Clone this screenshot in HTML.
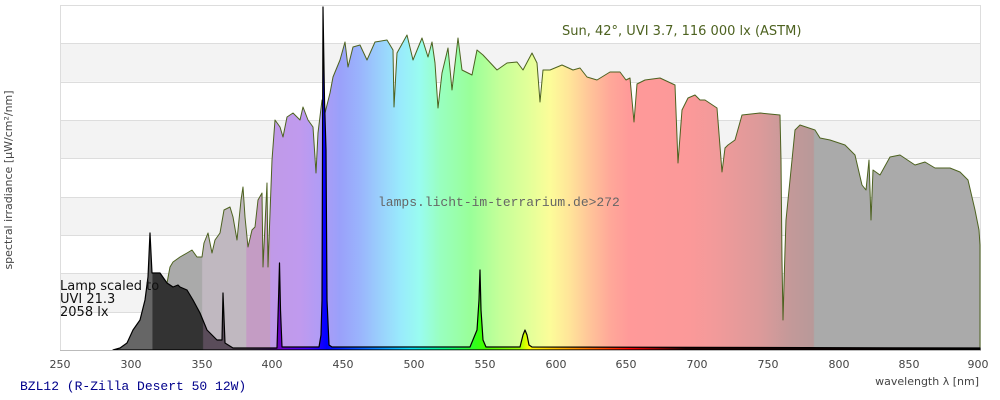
<!DOCTYPE html>
<html><head><meta charset="utf-8"><style>
html,body{margin:0;padding:0;background:#fff;width:1000px;height:400px;overflow:hidden}
svg{display:block;font-family:"DejaVu Sans","Liberation Sans",sans-serif}
</style></head><body>
<svg width="1000" height="400" viewBox="0 0 1000 400" xmlns="http://www.w3.org/2000/svg">
<defs>
<linearGradient id="sun" gradientUnits="userSpaceOnUse" x1="60" y1="0" x2="980" y2="0">
<stop offset="0" stop-color="#aaaaaa"/><stop offset=".154" stop-color="#aaaaaa"/>
<stop offset=".155" stop-color="#c0b8c0"/><stop offset=".202" stop-color="#c0b8c0"/>
<stop offset=".203" stop-color="#c49cc4"/><stop offset=".228" stop-color="#c49cc4"/>
<stop offset=".229" stop-color="#c09ae8"/><stop offset=".261" stop-color="#c09aee"/>
<stop offset=".283" stop-color="#b09cf6"/><stop offset=".304" stop-color="#9aa0fa"/>
<stop offset=".326" stop-color="#9ab4fc"/><stop offset=".348" stop-color="#9ad0fc"/>
<stop offset=".370" stop-color="#99eafc"/><stop offset=".391" stop-color="#99fcf0"/>
<stop offset=".413" stop-color="#99ffc0"/><stop offset=".446" stop-color="#99ff99"/>
<stop offset=".478" stop-color="#c4ff99"/><stop offset=".511" stop-color="#e4ff99"/>
<stop offset=".533" stop-color="#fcfc99"/><stop offset=".554" stop-color="#ffe499"/>
<stop offset=".576" stop-color="#ffc499"/><stop offset=".598" stop-color="#ffa899"/>
<stop offset=".620" stop-color="#ff9999"/><stop offset=".685" stop-color="#fb9999"/>
<stop offset=".717" stop-color="#f09a9a"/><stop offset=".761" stop-color="#dc9a9a"/>
<stop offset=".793" stop-color="#c49999"/><stop offset=".819" stop-color="#b89999"/>
<stop offset=".820" stop-color="#aaaaaa"/><stop offset="1" stop-color="#aaaaaa"/>
</linearGradient>
<linearGradient id="lamp" gradientUnits="userSpaceOnUse" x1="60" y1="0" x2="980" y2="0">
<stop offset="0" stop-color="#666"/><stop offset=".10" stop-color="#666"/>
<stop offset=".101" stop-color="#333"/><stop offset=".155" stop-color="#333"/>
<stop offset=".156" stop-color="#5a4c5a"/><stop offset=".202" stop-color="#5a4c5a"/>
<stop offset=".228" stop-color="#50207a"/><stop offset=".240" stop-color="#6a00cc"/>
<stop offset=".270" stop-color="#4000ff"/><stop offset=".290" stop-color="#0000ff"/>
<stop offset=".330" stop-color="#0060ff"/><stop offset=".380" stop-color="#00e0ff"/>
<stop offset=".420" stop-color="#00ff80"/><stop offset=".460" stop-color="#40ff00"/>
<stop offset=".500" stop-color="#a0ff00"/><stop offset=".510" stop-color="#ffff00"/>
<stop offset=".560" stop-color="#ff9000"/><stop offset=".620" stop-color="#ff0000"/>
<stop offset=".680" stop-color="#200000"/><stop offset="1" stop-color="#000"/>
</linearGradient>
</defs>
<!-- grid -->
<rect x="60" y="43.4" width="920" height="38.4" fill="#f3f3f3"/>
<rect x="60" y="120.2" width="920" height="38.4" fill="#f3f3f3"/>
<rect x="60" y="197" width="920" height="38.4" fill="#f3f3f3"/>
<rect x="60" y="273.8" width="920" height="38.4" fill="#f3f3f3"/>
<g stroke="#dddddd" stroke-width="1">
<line x1="60" y1="5.5" x2="980" y2="5.5"/><line x1="60" y1="43.5" x2="980" y2="43.5"/>
<line x1="60" y1="82.5" x2="980" y2="82.5"/><line x1="60" y1="120.5" x2="980" y2="120.5"/>
<line x1="60" y1="158.5" x2="980" y2="158.5"/><line x1="60" y1="197.5" x2="980" y2="197.5"/>
<line x1="60" y1="235.5" x2="980" y2="235.5"/><line x1="60" y1="273.5" x2="980" y2="273.5"/>
<line x1="60" y1="312.5" x2="980" y2="312.5"/>
<line x1="60.5" y1="5" x2="60.5" y2="350"/><line x1="980.5" y1="5" x2="980.5" y2="350"/>
</g>
<!-- sun -->
<polygon fill="url(#sun)" stroke="#4d6220" stroke-width="1" stroke-linejoin="round" points="133,350 143,330 153,320 160,303 167,283 170,267 173,262 180,257 187,253 192,250 197,257 202,257 204,243 208,233 212,253 215,240 220,233 224,210 230,207 233,217 237,240 241,200 243,187 245,217 248,247 252,230 255,227 258,200 262,193 263,267 267,183 268,267 272,160 275,120 280,127 283,137 287,117 293,113 300,120 303,107 308,120 313,127 316,173 318,133 322,100 325,113 330,93 333,77 340,60 345,42 348,67 353,47 360,45 367,60 375,42 387,40 393,50 394,107 397,53 407,35 413,60 422,38 428,57 432,42 435,63 438,108 442,73 448,48 452,90 458,38 462,70 472,75 477,50 483,55 497,70 507,63 517,62 523,70 532,53 537,63 540,102 543,70 550,70 562,65 573,70 580,68 587,77 597,80 610,72 620,72 626,80 630,78 634,122 637,84 645,80 660,78 675,85 678,163 682,110 688,98 695,95 700,100 705,100 717,108 722,172 725,148 728,145 735,140 742,115 760,113 780,115 781,160 782,260 783,320 785,250 786,220 790,180 795,130 800,125 815,130 820,138 830,140 845,145 855,155 862,185 866,190 869,160 871,220 873,170 880,175 890,157 900,155 915,165 925,162 935,168 950,168 960,172 968,180 975,210 979,230 980,245 980,350"/>
<!-- lamp -->
<polygon fill="url(#lamp)" stroke="#000" stroke-width="1.2" stroke-linejoin="round" points="113,350 120,348 127,343 133,330 140,320 145,300 148,277 150,233 152,273 155,273 160,273 167,283 173,287 178,285 180,287 187,290 193,300 200,313 207,330 217,340 222,340 223,293 225,343 233,348 277,348 278.5,300 279.5,263 280.5,310 282,347 319,347 321,335 322,300 323,7 324.5,100 326,150 327,300 329,345 332,347 470,347 477,330 479,300 480,270 481,310 483,340 486,347 520,347 523,335 525,330 527,335 529,345 532,347 980,348 980,350 113,350"/>
<line x1="60" y1="350.5" x2="980" y2="350.5" stroke="#bbb"/>
<!-- texts -->
<text x="562" y="35" font-size="13" fill="#4d6220">Sun, 42°, UVI 3.7, 116 000 lx (ASTM)</text>
<text x="378" y="206" font-size="13" fill="#666" font-family="Liberation Mono, monospace">lamps.licht-im-terrarium.de&gt;272</text>
<g font-size="13" fill="#111"><text x="60" y="290">Lamp scaled to</text><text x="60" y="303">UVI 21.3</text><text x="60" y="316">2058 lx</text></g>
<text transform="translate(12,180) rotate(-90)" font-size="11" fill="#444" text-anchor="middle">spectral irradiance [µW/cm²/nm]</text>
<g font-size="11" fill="#444" text-anchor="middle">
<text x="60" y="368">250</text><text x="131" y="368">300</text><text x="202" y="368">350</text><text x="272" y="368">400</text><text x="343" y="368">450</text><text x="414" y="368">500</text><text x="485" y="368">550</text><text x="556" y="368">600</text><text x="626" y="368">650</text><text x="697" y="368">700</text><text x="768" y="368">750</text><text x="839" y="368">800</text><text x="909" y="368">850</text><text x="978" y="368">900</text>
</g>
<text x="979" y="385" font-size="11" fill="#444" text-anchor="end">wavelength λ [nm]</text>
<text x="20" y="390" font-size="13" fill="#00008b" font-family="Liberation Mono, monospace">BZL12 (R-Zilla Desert 50 12W)</text>
</svg>
</body></html>
